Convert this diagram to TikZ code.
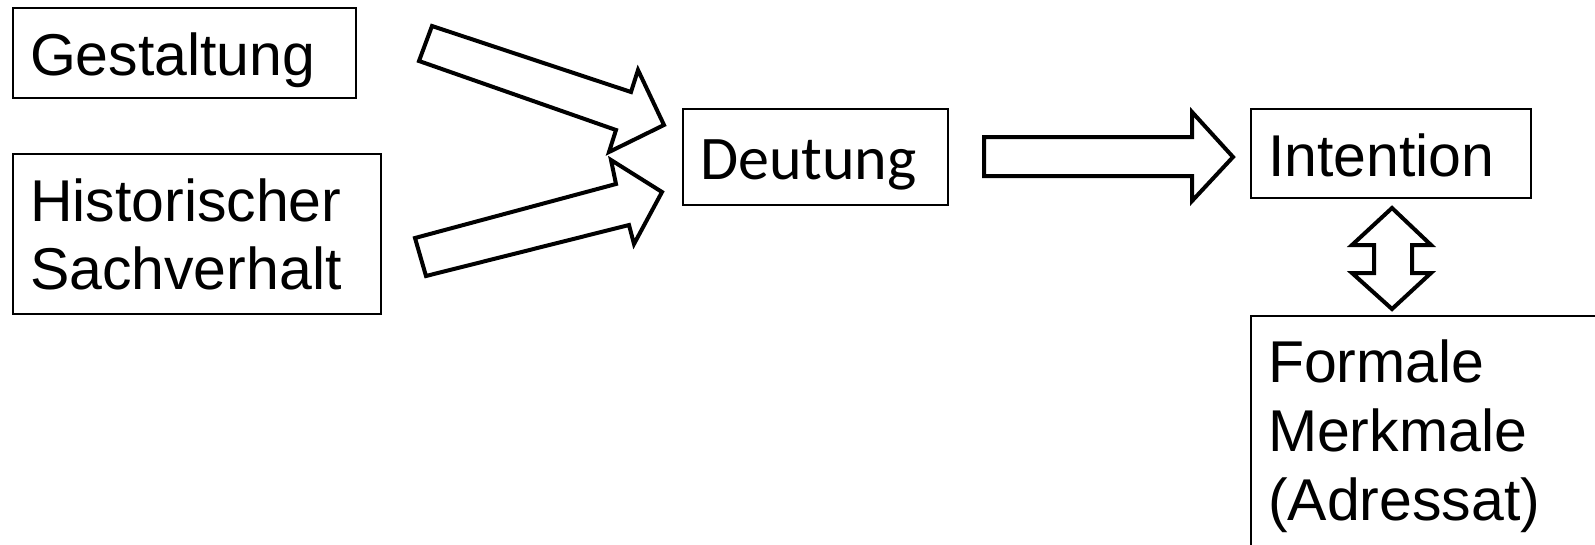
\documentclass[tikz,border=0pt]{standalone}
\usepackage{fontspec}
\setmainfont{Liberation Sans}
\newfontfamily\calibrifont{Carlito}
\begin{document}
\begin{tikzpicture}[x=1pt,y=-1pt,
  box/.style={draw, line width=2pt, anchor=north west, inner ysep=0pt, inner xsep=17pt,
    align=left, font=\fontsize{59}{68}\selectfont},
  blockarrow/.style={draw, line width=4pt, line join=miter, fill=white}]
\useasboundingbox (0,0) rectangle (1595,544);
\clip (0,0) rectangle (1595,544);
\node[box, text width=309pt, text height=67pt, text depth=23pt] (gest) at (12,7) {Gestaltung};
\node[box, text width=334pt, text height=67pt, text depth=93pt] (hist) at (12,153) {Historischer\\Sachverhalt};
\node[box, text width=231pt, text height=70pt, text depth=26pt, font=\calibrifont\fontsize{62}{70}\selectfont] (deut) at (682,108) {Deutung};
\node[box, text width=246pt, text height=67pt, text depth=22pt] (inten) at (1250,108) {Intention};
\node[box, text width=366pt, text height=66pt, text depth=219pt, font=\fontsize{59}{69}\selectfont] (form) at (1250,315) {Formale\\Merkmale\\(Adressat)};
% block arrows
\draw[blockarrow] (432,26) -- (631,92) -- (638,70) -- (664,125) -- (609,152) -- (616,130) -- (419,61) -- cycle;
\draw[blockarrow] (415,238) -- (616,184) -- (611,160) -- (662,192) -- (634,244) -- (629,225) -- (426,276) -- cycle;
\draw[blockarrow] (984,137) -- (1192,137) -- (1192,112) -- (1233,157) -- (1192,201) -- (1192,176) -- (984,176) -- cycle;
\draw[blockarrow] (1392,208) -- (1431,245) -- (1412,245) -- (1412,273) -- (1431,273) -- (1392,309) -- (1352,273) -- (1374,273) -- (1374,245) -- (1352,245) -- cycle;
\end{tikzpicture}
\end{document}
